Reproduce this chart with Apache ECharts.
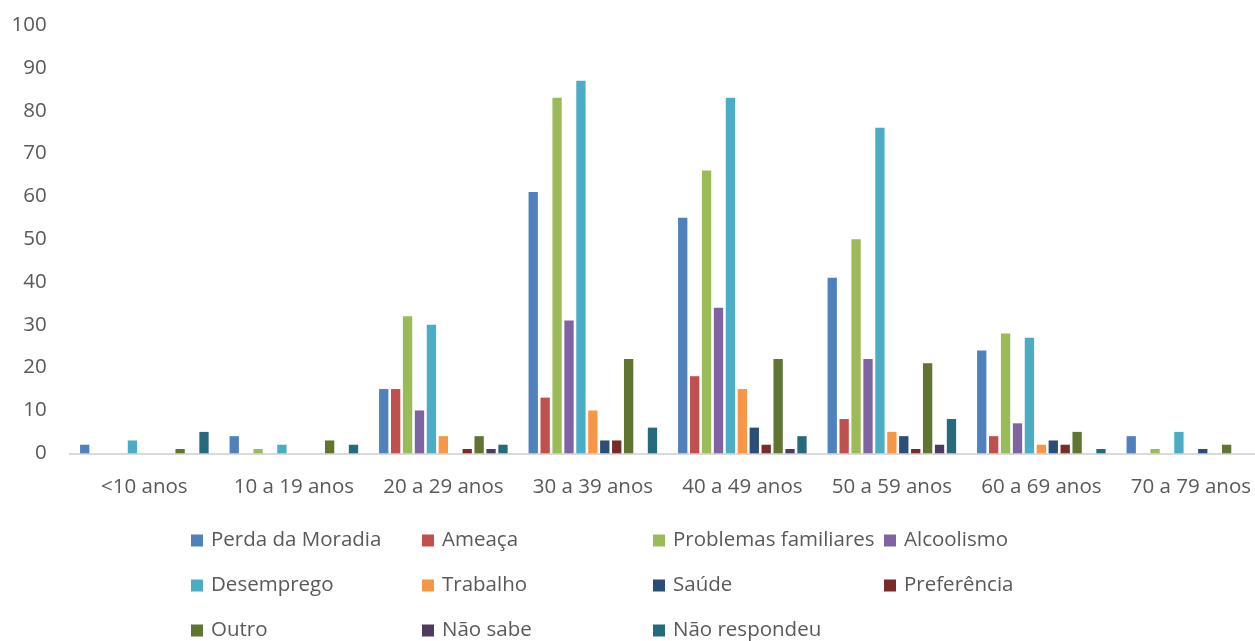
<!DOCTYPE html>
<html lang="pt">
<head>
<meta charset="utf-8">
<title>Motivos por faixa etária</title>
<script src="https://cdn.jsdelivr.net/npm/echarts@6/dist/echarts.min.js"></script>
<style>
  html, body { margin: 0; padding: 0; background: #ffffff; overflow: hidden; }
  /* the plot runs slightly past the right edge of the visible page */
  #chart { width: 1270px; height: 641px; }
</style>
</head>
<body>
<div id="chart"></div>
<script>
// Faixas etárias (eixo das categorias)
const faixas = ['<10 anos', '10 a 19 anos', '20 a 29 anos', '30 a 39 anos',
                '40 a 49 anos', '50 a 59 anos', '60 a 69 anos', '70 a 79 anos'];

// Rótulos do eixo vertical
const yTicks = [0, 10, 20, 30, 40, 50, 60, 70, 80, 90, 100];

// Valores por motivo, na ordem das faixas acima
const perdaDaMoradia      = [2, 4, 15, 61, 55, 41, 24, 4];
const ameaca              = [0, 0, 15, 13, 18, 8, 4, 0];
const problemasFamiliares = [0, 1, 32, 83, 66, 50, 28, 1];
const alcoolismo          = [0, 0, 10, 31, 34, 22, 7, 0];
const desemprego          = [3, 2, 30, 87, 83, 76, 27, 5];
const trabalho            = [0, 0, 4, 10, 15, 5, 2, 0];
const saude               = [0, 0, 0, 3, 6, 4, 3, 1];
const preferencia         = [0, 0, 1, 3, 2, 1, 2, 0];
const outro               = [1, 3, 4, 22, 22, 21, 5, 2];
const naoSabe             = [0, 0, 1, 0, 1, 2, 0, 0];
const naoRespondeu        = [5, 2, 2, 6, 4, 8, 1, 0];

const seriesDefs = [
  ['Perda da Moradia', perdaDaMoradia, '#4F81BD'],
  ['Ameaça', ameaca, '#C0504D'],
  ['Problemas familiares', problemasFamiliares, '#9BBB59'],
  ['Alcoolismo', alcoolismo, '#8064A2'],
  ['Desemprego', desemprego, '#4BACC6'],
  ['Trabalho', trabalho, '#F79646'],
  ['Saúde', saude, '#2C4D75'],
  ['Preferência', preferencia, '#772C2A'],
  ['Outro', outro, '#5F7530'],
  ['Não sabe', naoSabe, '#4D3B62'],
  ['Não respondeu', naoRespondeu, '#276A7C']
];

const FONT = '"Open Sans", "Noto Sans", sans-serif';
const TEXT_COLOR = '#595959';
const FONT_SIZE = 20.5;

const chart = echarts.init(document.getElementById('chart'), null, { renderer: 'canvas' });

chart.setOption({
  animation: false,
  backgroundColor: '#ffffff',
  textStyle: { fontFamily: FONT },
  grid: { left: 69.6, width: 1196, top: 25, bottom: 187.7, containLabel: false },
  legend: {
    left: 191,
    top: 518,
    width: 930,
    padding: 0,
    itemGap: 0,
    itemWidth: 12,
    itemHeight: 12,
    icon: 'rect',
    data: seriesDefs.map(d => d[0]),
    textStyle: {
      fontFamily: FONT,
      fontSize: FONT_SIZE,
      color: TEXT_COLOR,
      width: 211,
      lineHeight: 45,
      overflow: 'none',
      padding: [0, 0, 0, 3]
    }
  },
  xAxis: {
    type: 'category',
    data: faixas,
    axisLine: { show: true, lineStyle: { color: '#D9D9D9', width: 2 } },
    axisTick: { show: false },
    axisLabel: {
      fontFamily: FONT,
      fontSize: FONT_SIZE,
      color: TEXT_COLOR,
      margin: 23,
      interval: 0
    },
    splitLine: { show: false }
  },
  yAxis: {
    type: 'value',
    min: yTicks[0],
    max: yTicks[yTicks.length - 1],
    interval: yTicks[1] - yTicks[0],
    axisLine: { show: false },
    axisTick: { show: false },
    splitLine: { show: false },
    axisLabel: {
      fontFamily: FONT,
      fontSize: FONT_SIZE,
      color: TEXT_COLOR,
      margin: 23
    }
  },
  series: seriesDefs.map(([name, values, color]) => ({
    name: name,
    type: 'bar',
    data: values,
    barGap: '28%',
    barCategoryGap: '14%',
    itemStyle: { color: color },
    emphasis: { disabled: true }
  }))
});
</script>
</body>
</html>
